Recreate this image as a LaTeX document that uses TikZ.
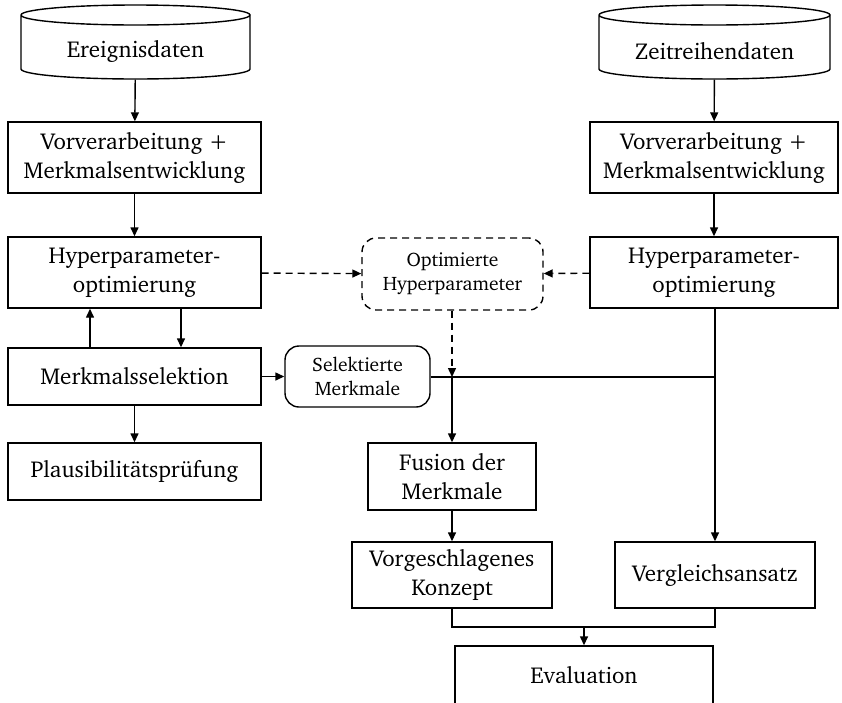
\documentclass[tikz,border=0pt]{standalone}
\usepackage[T1]{fontenc}
\renewcommand{\rmdefault}{bch}
\usetikzlibrary{arrows.meta,calc}
\begin{document}
\begin{tikzpicture}[x=1pt,y=-1pt,
  line width=1.4pt,
  txt/.style={font=\fontsize{23}{29}\selectfont, align=center, inner sep=0pt},
  smalltxt/.style={font=\fontsize{19.5}{24}\selectfont, align=center, inner sep=0pt},
  proc/.style={txt, draw, minimum width=253pt, minimum height=71pt},
  store/.style={txt, minimum width=229pt, minimum height=56pt},
  result/.style={smalltxt, draw, rounded corners=14pt},
  hyperbox/.style={smalltxt, draw, dash pattern=on 7pt off 5pt, rounded corners=14pt},
  flow/.style={-{Triangle[length=9pt,width=8pt]}},
  dflow/.style={flow, dash pattern=on 7pt off 5pt},
]
\useasboundingbox (0,0) rectangle (842,702);

% data stores (cylinders)
\node[store] (ev) at (135.5,51) {Ereignisdaten};
\node[store, minimum width=231pt] (zr) at (714.5,51) {Zeitreihendaten};
\foreach \cx/\rx in {135.5/114.5, 714.5/115.5}{
  \draw (\cx-\rx,15) arc[start angle=180,end angle=540,x radius=\rx,y radius=10]
        (\cx-\rx,15) -- (\cx-\rx,69) arc[start angle=180,end angle=0,x radius=\rx,y radius=10]
        -- (\cx+\rx,15);
}

% left branch
\node[proc] (pre1) at (134.5,157.5) {Vorverarbeitung +\\Merkmalsentwicklung};
\node[proc] (hyp1) at (134.5,272.5) {Hyperparameter-\\optimierung};
\node[proc, minimum height=57pt] (msel) at (134.5,376.5) {Merkmalsselektion};
\node[proc, minimum height=57pt] (plaus) at (134.5,471.5) {Plausibilit\"atspr\"ufung};

% right branch
\node[proc, minimum width=248pt] (pre2) at (714,157.5) {Vorverarbeitung +\\Merkmalsentwicklung};
\node[proc, minimum width=248pt] (hyp2) at (714,272.5) {Hyperparameter-\\optimierung};

% middle
\node[hyperbox, minimum width=181pt, minimum height=72pt] (opt) at (452.5,274) {Optimierte\\Hyperparameter};
\node[result, minimum width=145pt, minimum height=61pt] (selm) at (357.5,376.5) {Selektierte\\Merkmale};
\node[proc, minimum width=168pt, minimum height=67pt] (fus) at (452,476.5) {Fusion der\\Merkmale};
\node[proc, minimum width=200pt, minimum height=66pt] (konz) at (452,575) {Vorgeschlagenes\\Konzept};
\node[proc, minimum width=200pt, minimum height=66pt] (verg) at (715,575) {Vergleichsansatz};
\node[proc, minimum width=258pt, minimum height=58pt] (eval) at (584,675) {Evaluation};

% junction points
\coordinate (jsel) at (452,377);
\coordinate (jright) at (714,377);
\coordinate (jeval) at (584,627);

% connectors
\draw[flow] (ev) -- (pre1);
\draw[flow] (pre1) -- (hyp1);
\draw[flow] (hyp1.south -| 181,0) -- (msel.north -| 181,0);
\draw[flow] (msel.north -| 90,0) -- (hyp1.south -| 90,0);
\draw[flow] (msel) -- (plaus);
\draw[flow] (msel) -- (selm);

\draw[flow] (zr) -- (pre2);
\draw[flow] (pre2) -- (hyp2);

\draw[dflow] (hyp1) -- (opt);
\draw[dflow] (hyp2) -- (opt);
\draw[dflow] (opt.south -| jsel) -- (jsel);

\draw (selm.east |- jsel) -- (jright);
\draw[flow] (jsel) -- (fus);
\draw[flow] (hyp2.south -| verg) -- (verg);
\draw[flow] (fus) -- (konz);
\draw (konz.south) |- (jeval) -| (verg.south);
\draw[flow] (jeval) -- (eval);
\end{tikzpicture}
\end{document}
